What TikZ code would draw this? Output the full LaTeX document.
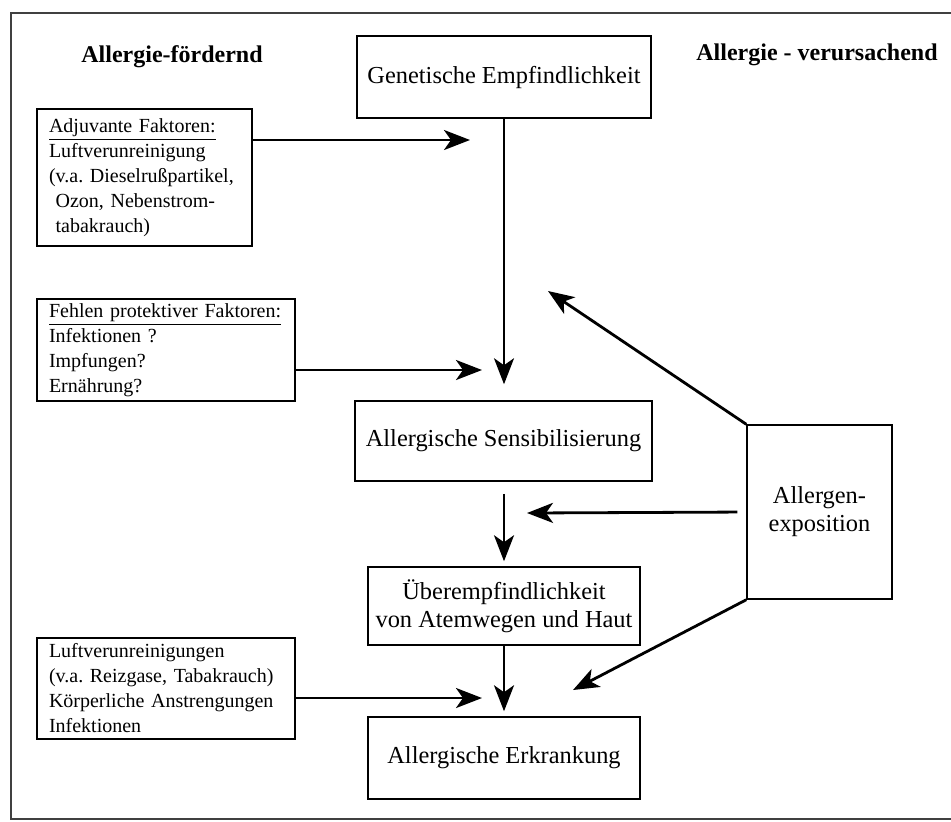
\documentclass[tikz,border=0pt]{standalone}
\usepackage{fontspec}
\setmainfont{Liberation Serif}
\usetikzlibrary{arrows.meta}

\begin{document}
\frenchspacing
\begin{tikzpicture}[
    x=0.5pt, y=-0.5pt,
    box/.style={draw, line width=0.75pt, inner sep=0pt, align=center, font=\fontsize{12.2}{14}\selectfont},
    infobox/.style={draw, line width=0.75pt, inner xsep=6pt, inner ysep=0pt, align=left, font=\fontsize{10}{12.5}\selectfont},
    head/.style={font=\bfseries\fontsize{12}{14}\selectfont},
    arrow/.style={-{Stealth[length=13pt, width=10pt, inset=3.5pt]}, line width=1.4pt}
]
    \useasboundingbox (0,0) rectangle (951,821);
    \draw[line width=0.8pt, black!75] (965,13) -- (11,13) -- (11,819) -- (965,819);

    \node[head] (lhead) at (172,57) {Allergie-fördernd};
    \node[head] (rhead) at (817,55) {Allergie - verursachend};

    \node[box, minimum width=147pt, minimum height=41pt] (gen) at (504,77) {Genetische Empfindlichkeit};
    \node[box, minimum width=148.5pt, minimum height=40pt] (sens) at (503.5,441) {Allergische Sensibilisierung};
    \node[box, minimum width=136pt, minimum height=39pt] (ueber) at (504,606) {Überempfindlichkeit\\von Atemwegen und Haut};
    \node[box, minimum width=136pt, minimum height=41pt] (erkr) at (504,758) {Allergische Erkrankung};
    \node[box, minimum width=72.5pt, minimum height=87pt] (expo) at (819.5,512) {Allergen-\\exposition};

    \node[infobox, text width=95.5pt, minimum height=68.5pt] (adj) at (144.5,177.5)
        {\underline{Adjuvante Faktoren:}\\Luftverunreinigung\\(v.a. Dieselrußpartikel,\\\phantom{(}Ozon, Nebenstrom-\\\phantom{(}tabakrauch)};
    \node[infobox, text width=117pt, minimum height=51pt] (prot) at (166,350)
        {\underline{Fehlen protektiver Faktoren:}\\Infektionen ?\\Impfungen?\\Ernährung?};
    \node[infobox, text width=117pt, minimum height=50.5pt] (luft) at (166,688.5)
        {Luftverunreinigungen\\(v.a. Reizgase, Tabakrauch)\\Körperliche Anstrengungen\\Infektionen};

    \coordinate (adjtip) at (470,140);
    \coordinate (prottip) at (482,370);
    \coordinate (lufttip) at (482,698);
    \coordinate (gentip) at (548,291);
    \coordinate (ueberin) at (527,513);
    \coordinate (erkrin) at (573,690);

    \draw[arrow] (adj.east |- adjtip) -- (adjtip);
    \draw[arrow] (prot.east |- prottip) -- (prottip);
    \draw[arrow] (luft.east |- lufttip) -- (lufttip);

    \draw[arrow, shorten >=8pt] (gen) -- (gen |- sens.north);
    \draw[arrow, shorten <=6pt, shorten >=2.5pt] (sens.south -| ueber) -- (ueber);
    \draw[arrow, shorten >=2.5pt] (ueber) -- (erkr);

    \draw[arrow] (expo.north west) -- (gentip);
    \draw[arrow, shorten <=4.5pt] (expo.west) -- (ueberin);
    \draw[arrow] (expo.south west) -- (erkrin);
\end{tikzpicture}
\end{document}
